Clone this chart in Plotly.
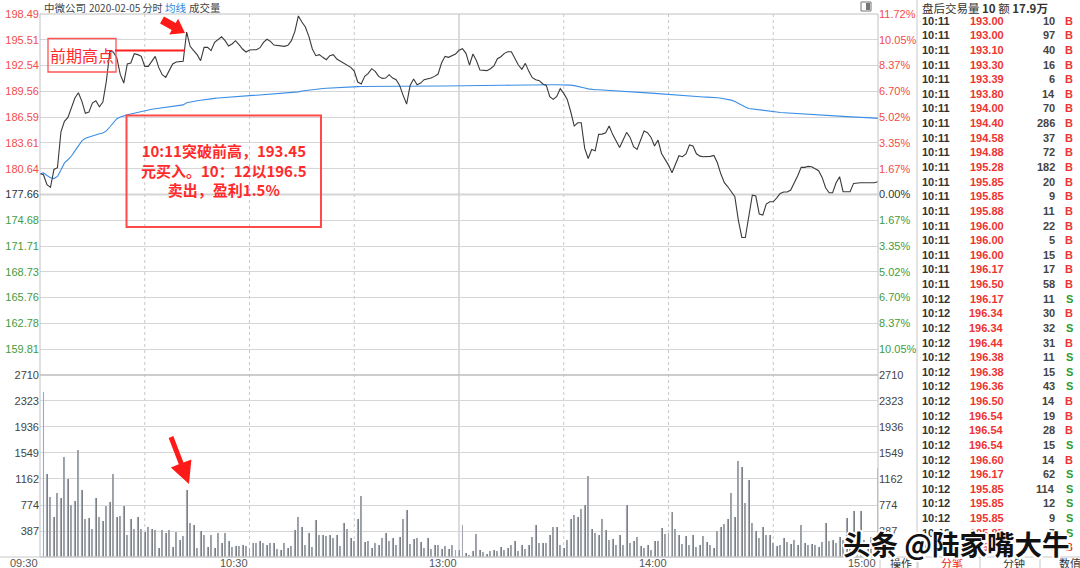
import math
import plotly.graph_objects as go

# ---------------- data ----------------
prev_close = 177.66
minutes = list(range(0, 241))  # 09:30 .. 11:30 | 13:00 .. 15:00 (index of minute)
prices = [180.05,179.94,178.79,178.48,180.55,180.75,184.9,186.10,186.56,187.64,188.79,
          189.41,188.41,187.02,187.17,188.21,188.48,187.79,188.33,190.72,194.18,
          194.10,193.41,191.49,190.52,192.72,192.83,193.91,193.80,193.60,192.45,
          192.45,193.10,193.60,192.33,191.49,191.18,191.87,192.72,192.95,192.95,
          193.03,196.41,194.76,194.26,193.80,193.10,194.64,194.64,194.26,195.22,
          195.53,195.87,195.41,194.80,195.03,195.41,194.95,194.45,194.10,194.33,
          194.37,194.37,194.60,195.22,195.57,195.33,194.91,194.87,194.87,194.76,
          194.87,195.41,196.49,198.26,197.57,196.99,195.91,194.45,193.68,193.80,
          193.49,193.22,193.68,193.80,193.29,193.06,192.87,192.64,192.33,191.91,
          190.64,190.41,191.29,191.64,192.18,191.87,191.29,191.06,191.10,191.49,
          191.10,190.91,190.25,189.10,188.10,190.25,190.99,190.33,190.52,190.91,
          190.99,191.10,191.29,191.56,192.83,193.60,193.49,193.68,193.87,194.30,
          194.49,193.95,192.60,193.87,193.10,192.02,191.98,191.95,192.18,192.49,
          193.33,193.56,193.95,194.14,194.14,193.37,192.60,192.10,192.79,191.87,
          191.14,190.91,190.79,190.41,190.25,188.95,188.64,188.98,189.87,189.33,
          188.64,187.21,185.56,185.94,185.94,182.98,181.82,182.86,182.71,184.60,
          184.63,184.79,185.56,184.60,183.75,183.09,183.94,184.83,184.25,183.17,
          182.86,184.02,184.98,184.79,184.25,183.25,183.94,182.40,181.70,181.05,
          180.17,181.17,182.13,182.02,182.33,183.37,183.25,182.36,182.09,182.02,
          182.02,182.06,182.17,181.32,180.02,179.02,178.55,177.90,177.40,174.71,
          172.70,172.70,175.28,177.59,177.48,175.40,175.28,176.55,176.82,176.82,
          177.28,177.78,177.94,177.94,178.17,178.94,179.82,180.79,180.79,180.90,
          180.86,180.63,180.40,179.63,178.44,177.86,177.86,179.02,179.71,177.98,
          177.98,177.98,178.94,179.02,179.02,179.02,179.02,179.02,179.02,179.13]
avg_price = [180.05,180.15,179.85,179.6,179.5,179.75,180.5,181.3,181.67,182.1,182.7,
             183.35,183.85,184.15,184.3,184.4,184.55,184.68,184.75,185.0,185.45,
             185.95,186.4,186.6,186.75,186.85,186.95,187.05,187.15,187.28,187.37,
             187.43,187.5,187.56,187.62,187.68,187.73,187.77,187.81,187.86,187.9,
             188.0,188.25,188.35,188.42,188.48,188.53,188.6,188.66,188.71,188.75,
             188.79,188.83,188.87,188.9,188.93,188.96,188.98,189.01,189.04,189.07,
             189.1,189.12,189.15,189.18,189.21,189.24,189.26,189.28,189.3,189.32,
             189.35,189.37,189.42,189.5,189.6,189.66,189.71,189.76,189.81,189.86,
             189.89,189.92,189.95,189.98,190.01,190.03,190.05,190.07,190.09,190.1,
             190.11,190.12,190.13,190.14,190.14,190.14,190.14,190.14,190.14,190.14,
             190.15,190.15,190.15,190.15,190.16,190.16,190.16,190.16,190.17,190.17,
             190.17,190.17,190.18,190.18,190.18,190.18,190.18,190.18,190.19,190.19,
             190.2,190.2,190.21,190.21,190.22,190.22,190.23,190.23,190.24,190.25,
             190.25,190.26,190.27,190.28,190.28,190.29,190.3,190.3,190.31,190.31,
             190.32,190.32,190.33,190.33,190.33,190.33,190.33,190.33,190.33,190.33,
             190.32,190.28,190.22,190.15,190.05,189.95,189.85,189.78,189.75,189.74,
             189.72,189.71,189.68,189.66,189.63,189.6,189.57,189.54,189.5,189.48,
             189.45,189.43,189.4,189.38,189.36,189.33,189.3,189.28,189.25,189.22,
             189.17,189.12,189.07,189.02,189.0,188.98,188.97,188.95,188.93,188.92,
             188.9,188.89,188.87,188.82,188.76,188.7,188.65,188.55,188.4,188.15,
             187.95,187.75,187.58,187.52,187.46,187.4,187.34,187.3,187.26,187.22,
             187.18,187.13,187.1,187.07,187.04,187.01,186.98,186.95,186.92,186.89,
             186.86,186.83,186.81,186.79,186.77,186.75,186.73,186.71,186.69,186.67,
             186.65,186.64,186.62,186.6,186.57,186.55,186.52,186.5,186.47,186.44]
vol_minutes = list(range(1, 241))
volumes = [2450,1240,900,600,960,880,1490,1160,780,840,1600,1000,570,580,420,880,590,540,760,820,
           1230,600,610,760,330,570,420,600,420,370,440,410,400,140,400,350,400,150,370,250,
           320,1000,510,470,140,
           392,332,144,322,134,362,203,362,243,149,164,164,174,164,134,203,
           203,243,213,184,213,213,119,109,203,134,164,402,590,452,184,
           362,144,546,332,322,312,332,283,332,164,501,412,283,233,570,903,
           223,233,134,213,184,283,352,233,283,174,298,565,700,194,273,
           283,223,134,283,119,174,184,124,164,114,174,109,104,471,
           60,35,84,347,99,74,45,84,104,84,144,109,134,184,233,
           84,184,124,184,293,481,203,213,213,332,452,442,184,134,258,
           570,630,600,719,769,1201,412,352,332,565,397,258,263,184,322,174,
           779,213,243,303,164,134,174,104,233,233,432,342,352,670,412,
           332,194,312,184,332,144,184,312,223,174,134,382,452,491,570,948,
           600,1424,1335,804,1146,501,392,283,452,322,332,213,164,174,283,
           223,194,258,184,471,213,184,194,184,154,223,506,233,258,208,
           300,250,580,200,690,300,680,250,200,300,180,1325]

price_labels = ["198.49","195.51","192.54","189.56","186.59","183.61","180.64",
                "177.66","174.68","171.71","168.73","165.76","162.78","159.81"]
pct_labels = ["11.72%","10.05%","8.37%","6.70%","5.02%","3.35%","1.67%",
              "0.00%","1.67%","3.35%","5.02%","6.70%","8.37%","10.05%"]
price_floor = 156.83
vol_labels = ["2710","2323","1936","1549","1162","774","387"]
time_labels = ["09:30","10:30","13:00","14:00","15:00"]
time_pos = [0, 60, 120, 180, 240]

tick_times = ["10:11"]*19 + ["10:12"]*18
tick_prices = ["193.00","193.00","193.10","193.30","193.39","193.80","194.00","194.40","194.58",
               "194.88","195.28","195.85","195.85","195.88","196.00","196.00","196.00","196.17",
               "196.50","196.17","196.34","196.34","196.44","196.38","196.38","196.36","196.50",
               "196.54","196.54","196.54","196.60","196.17","195.85","195.85","195.85","195.85","195.85"]
tick_vols = ["10","97","40","16","6","14","70","286","37","72","182","20","9","11","22","5","15","17",
             "58","11","30","32","31","11","15","43","14","19","28","15","14","62","114","12","9","7","4"]
tick_sides = ["B"]*19 + ["S","B","S","B","S","S","S","B","B","B","S","B","S","S","S","S","S","B"]

# ---------------- geometry helpers ----------------
W, H = 1080, 568
L, R, T, B = 40, 878, 14, 557


def px(x):
    return (x - L) / (R - L)


def py(y):
    return (B - y) / (B - T)


split = py(375)
RED = "#f24b4b"
GREEN = "#3f9b3f"
GRAY = "#333333"
NUMFONT = "Liberation Sans, Arial, sans-serif"
CJK = "Noto Sans CJK SC"


def colored(labels):
    out = []
    for i, s in enumerate(labels):
        c = RED if i < 7 else (GRAY if i == 7 else GREEN)
        out.append(f'<span style="color:{c}">{s}</span>')
    return out


price_vals = [float(s) for s in price_labels]
vol_vals = [float(s) for s in vol_labels]

fig = go.Figure()
fig.add_trace(go.Bar(x=vol_minutes, y=volumes, xaxis="x2", yaxis="y2", width=0.28,
                     marker=dict(color="#707070", line=dict(width=0)), showlegend=False,
                     hoverinfo="skip"))
# invisible twins so that the right-hand axes get drawn
fig.add_trace(go.Bar(x=vol_minutes, y=volumes, xaxis="x2", yaxis="y4", width=0.28,
                     marker=dict(color="rgba(0,0,0,0)"), showlegend=False, hoverinfo="skip"))
fig.add_trace(go.Scatter(x=minutes, y=prices, mode="lines", xaxis="x", yaxis="y3",
                         line=dict(color="rgba(0,0,0,0)", width=0), showlegend=False,
                         hoverinfo="skip"))
fig.add_trace(go.Scatter(x=minutes, y=avg_price, mode="lines", xaxis="x", yaxis="y",
                         line=dict(color="#3a8ee6", width=1.1), showlegend=False))
fig.add_trace(go.Scatter(x=minutes, y=prices, mode="lines", xaxis="x", yaxis="y",
                         line=dict(color="#3a3a3a", width=1.1), showlegend=False))

axis_font = dict(family=NUMFONT, size=11, color="#444")
fig.update_layout(
    width=W, height=H,
    margin=dict(l=L, r=W - R, t=T, b=H - B),
    paper_bgcolor="white", plot_bgcolor="white",
    bargap=0, barmode="overlay",
    xaxis=dict(domain=[0, 1], range=[0, 240], anchor="y", showticklabels=False,
               showgrid=False, zeroline=False, showline=False),
    xaxis2=dict(domain=[0, 1], range=[0, 240], anchor="y2", matches="x", showticklabels=False,
                showgrid=False, zeroline=False, showline=False),
    yaxis=dict(domain=[split, 1], range=[price_floor, 198.49], tickvals=price_vals,
               ticktext=colored(price_labels), tickfont=axis_font, ticks="",
               showgrid=True, gridcolor="#d6d6d6", gridwidth=1, zeroline=False, automargin=False),
    yaxis3=dict(overlaying="y", side="right", anchor="x", range=[price_floor, 198.49],
                tickvals=price_vals, ticktext=colored(pct_labels), tickfont=axis_font, ticks="",
                showgrid=False, zeroline=False, automargin=False),
    yaxis2=dict(domain=[0, split], range=[0, 2710], tickvals=vol_vals, ticktext=vol_labels,
                tickfont=axis_font, ticks="", showgrid=True, gridcolor="#d6d6d6", gridwidth=1,
                zeroline=False, automargin=False),
    yaxis4=dict(overlaying="y2", side="right", anchor="x2", range=[0, 2710], tickvals=vol_vals,
                ticktext=vol_labels, tickfont=axis_font, ticks="", showgrid=False,
                zeroline=False, automargin=False),
)

shapes = []
# vertical time grid
for k in [30, 60, 90, 150, 180, 210]:
    shapes.append(dict(type="line", xref="x", yref="paper", x0=k, x1=k, y0=0, y1=1,
                       line=dict(color="#c8c8c8", width=1, dash="dot"), layer="below"))
shapes.append(dict(type="line", xref="x", yref="paper", x0=120, x1=120, y0=0, y1=1,
                   line=dict(color="#c4c4c4", width=1.2), layer="below"))
# previous close line and panel divider
shapes.append(dict(type="line", xref="paper", yref="y", x0=0, x1=1, y0=prev_close, y1=prev_close,
                   line=dict(color="#a9a9a9", width=1.6), layer="below"))
shapes.append(dict(type="line", xref="paper", yref="paper", x0=0, x1=1, y0=split, y1=split,
                   line=dict(color="#bcbcbc", width=1.5)))
# plot frame
shapes.append(dict(type="rect", xref="paper", yref="paper", x0=0, x1=1, y0=0, y1=1,
                   line=dict(color="#c0c0c0", width=1)))
# right panel divider & bottom bar
shapes.append(dict(type="line", xref="paper", yref="paper", x0=px(917), x1=px(917), y0=py(0), y1=py(568),
                   line=dict(color="#c8c8c8", width=1)))
shapes.append(dict(type="line", xref="paper", yref="paper", x0=px(0), x1=px(1080), y0=py(557), y1=py(557),
                   line=dict(color="#c8c8c8", width=1)))
for xx in [880, 918, 980, 1040]:
    shapes.append(dict(type="line", xref="paper", yref="paper", x0=px(xx), x1=px(xx), y0=py(557), y1=py(568),
                       line=dict(color="#c8c8c8", width=1)))
# small icon top right
shapes.append(dict(type="rect", xref="paper", yref="paper", x0=px(861), x1=px(871), y0=py(11), y1=py(2),
                   line=dict(color="#777", width=1), fillcolor="white"))
shapes.append(dict(type="rect", xref="paper", yref="paper", x0=px(866), x1=px(870), y0=py(10), y1=py(3),
                   line=dict(width=0), fillcolor="#777"))

# red annotation marks
shapes.append(dict(type="rect", xref="paper", yref="paper", x0=px(48), x1=px(116), y0=py(72), y1=py(38.5),
                   line=dict(color="#ff5555", width=1.3)))
shapes.append(dict(type="line", xref="paper", yref="paper", x0=px(115), x1=px(185), y0=py(50.5), y1=py(50.5),
                   line=dict(color="#ff2020", width=2)))
shapes.append(dict(type="rect", xref="paper", yref="paper", x0=px(126.5), x1=px(321), y0=py(227), y1=py(115.5),
                   line=dict(color="#ff4a4a", width=2)))


def arrow_path(x0, y0, x1, y1, sw, hw, hl):
    dx, dy = x1 - x0, y1 - y0
    ln = math.hypot(dx, dy)
    ux, uy = dx / ln, dy / ln
    nx, ny = -uy, ux
    bx, by = x1 - ux * hl, y1 - uy * hl
    pts = [(x0 + nx * sw / 2, y0 + ny * sw / 2), (bx + nx * sw / 2, by + ny * sw / 2),
           (bx + nx * hw / 2, by + ny * hw / 2), (x1, y1),
           (bx - nx * hw / 2, by - ny * hw / 2), (bx - nx * sw / 2, by - ny * sw / 2),
           (x0 - nx * sw / 2, y0 - ny * sw / 2)]
    return "M " + " L ".join(f"{px(a):.5f},{py(b):.5f}" for a, b in pts) + " Z"


shapes.append(dict(type="path", xref="paper", yref="paper", path=arrow_path(162, 20, 185, 33, 8, 18, 13),
                   fillcolor="#ff1a1a", line=dict(width=0)))
shapes.append(dict(type="path", xref="paper", yref="paper", path=arrow_path(171, 437, 189, 484, 5, 22, 22),
                   fillcolor="#ff1a1a", line=dict(width=0)))
fig.update_layout(shapes=shapes)

ann = []


def text(x, y, s, size=11, color="#333", family=NUMFONT, xanchor="left", yanchor="middle", align="left"):
    ann.append(dict(xref="paper", yref="paper", x=px(x), y=py(y), text=s, showarrow=False,
                    xanchor=xanchor, yanchor=yanchor, align=align,
                    font=dict(size=size, color=color, family=family)))


# header
text(42, 7.5, "中微公司", 10.5, "#444", CJK)
text(87, 7.5, "2020-02-05 分时", 10, "#444", CJK)
text(163, 7.5, "均线", 10.5, "#2a86e0", CJK)
text(187, 7.5, "成交量", 10.5, "#444", CJK)

# time labels
for lab, pos in zip(time_labels, time_pos):
    ann.append(dict(xref="x", yref="paper", x=pos, y=py(562.5), text=lab, showarrow=False,
                    xanchor="right", yanchor="middle", font=dict(size=11, color="#555", family=NUMFONT)))

# annotations in red
text(82, 55, "前期高点", 16, "#ff2a2a", CJK, xanchor="center")
text(223.5, 170.3, "<b>10:11突破前高，193.45<br>元买入。10：12以196.5<br>卖出，盈利1.5%</b>", 15,
     "#ff2a2a", CJK, xanchor="center", align="center")

# right panel header + trade table
text(920, 8, "盘后交易量 <b>10</b> 额 <b>17.9万</b>", 11.5, "#333", CJK)
for i, (tm, pr, vo, sd) in enumerate(zip(tick_times, tick_prices, tick_vols, tick_sides)):
    yy = 20.7 + 14.63 * i
    text(920, yy, f"<b>{tm}</b>", 11, "#333")
    text(1006, yy, f"<b>{pr}</b>", 11, "#ee3333", xanchor="right")
    text(1057, yy, f"<b>{vo}</b>", 11, "#444", xanchor="right")
    text(1069, yy, f"<b>{sd}</b>", 11, "#ee3333" if sd == "B" else "#2f9a2f", xanchor="center")

# bottom tabs
text(901, 562.5, "操作", 11, "#333", CJK, xanchor="center")
text(952, 562.5, "分笔", 11, "#ee2222", CJK, xanchor="center")
text(1014, 562.5, "分钟", 11, "#333", CJK, xanchor="center")
text(1070, 562.5, "数值", 11, "#333", CJK, xanchor="center")

# watermark with white halo
wm = "<b>头条 @陆家嘴大牛</b>"
for dx, dy in [(-2, 0), (2, 0), (0, -2), (0, 2), (-1.5, -1.5), (1.5, 1.5), (-1.5, 1.5), (1.5, -1.5)]:
    text(956 + dx, 543 + dy, wm, 27.5, "white", CJK, xanchor="center")
text(956, 543, wm, 27.5, "#111", CJK, xanchor="center")

fig.update_layout(annotations=ann)
fig.write_html("out.html", config={"displayModeBar": False})

# remove the default page margin so the figure sits at the window's top-left corner
with open("out.html", encoding="utf-8") as f:
    html = f.read()
html = html.replace("<head>", "<head><style>html,body{margin:0;padding:0;overflow:hidden;}</style>", 1)
with open("out.html", "w", encoding="utf-8") as f:
    f.write(html)
